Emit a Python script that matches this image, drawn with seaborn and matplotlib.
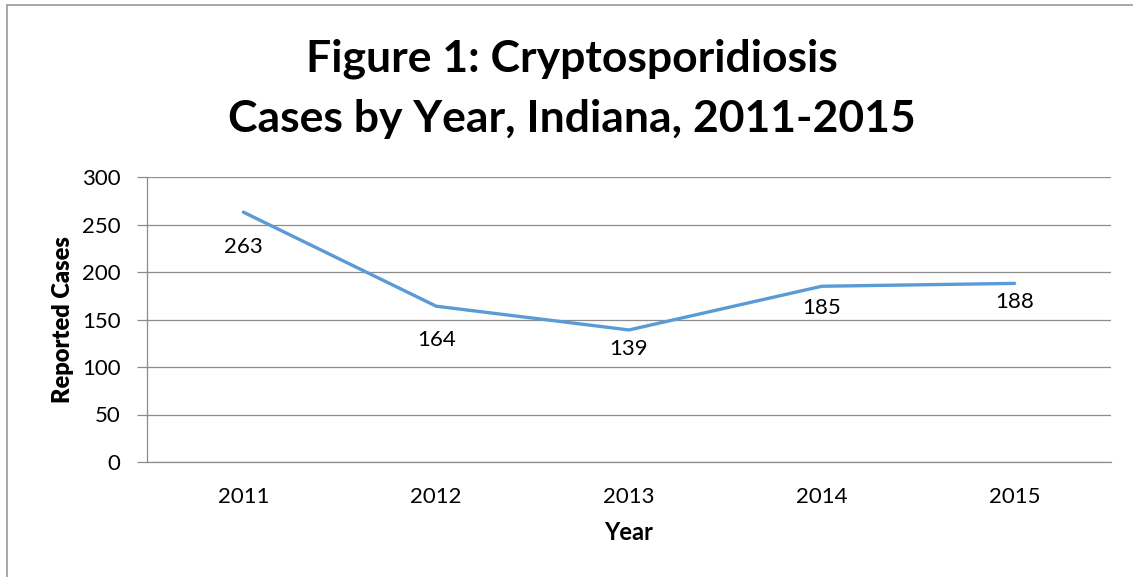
import pandas as pd
import matplotlib
matplotlib.use('Agg')
import matplotlib.pyplot as plt
import matplotlib.patches as mpatches
import seaborn as sns

# Dữ liệu
years = ['2011', '2012', '2013', '2014', '2015']
cases = [263, 164, 139, 185, 188]
y_ticks = [0, 50, 100, 150, 200, 250, 300]

# độ lệch nhãn dữ liệu (pixel, dưới điểm)
label_offsets = [-35, -34, -19, -22, -19]

sns.set_style('white')
plt.rcParams['font.family'] = ['Lato', 'DejaVu Sans']

W, H = 1133, 577
fig = plt.figure(figsize=(W / 100, H / 100), dpi=100)
ax = fig.add_axes([147 / W, 1 - 462 / H, (1111 - 147) / W, (462 - 177) / H])

df = pd.DataFrame({'Year': years, 'Cases': cases})
sns.lineplot(data=df, x='Year', y='Cases', ax=ax, color='#5B9BD5', linewidth=2.4,
             sort=False)

for i, (yr, v) in enumerate(zip(years, cases)):
    ax.annotate(str(v), (i, v), xytext=(0, label_offsets[i] * 0.72),
                textcoords='offset points', ha='center', va='center', fontsize=16,
                color='black')

ax.set_xlim(-0.5, 4.5)
ax.set_ylim(0, 300)
ax.set_yticks(y_ticks)
ax.yaxis.grid(True, color='#8c8c8c', linewidth=0.9)
ax.xaxis.grid(False)
for s in ['top', 'right']:
    ax.spines[s].set_visible(False)
ax.spines['left'].set_color('#8c8c8c')
ax.spines['bottom'].set_color('#8c8c8c')
ax.spines['left'].set_linewidth(0.9)
ax.spines['bottom'].set_linewidth(0.9)

# vạch chia trục x nằm giữa các năm
ax.set_xticks(range(len(years)))
ax.set_xticklabels(years, fontsize=16, color='black')
ax.set_xticks([i - 0.5 for i in range(len(years) + 1)], minor=True)
ax.tick_params(axis='x', which='major', length=0, pad=18)
ax.tick_params(axis='x', which='minor', length=6, color='#8c8c8c', width=0.9, direction='out')
ax.tick_params(axis='y', length=7, color='#8c8c8c', width=0.9, labelsize=16, pad=12,
               left=True, labelcolor='black')

ax.set_xlabel('Year', fontsize=17, fontweight='bold', labelpad=10, color='black')
ax.set_ylabel('Reported Cases', fontsize=17, fontweight='heavy', labelpad=6, color='black')

fig.text(572 / W, 1 - 89 / H, 'Figure 1: Cryptosporidiosis\nCases by Year, Indiana, 2011-2015',
         ha='center', va='center', fontsize=32, fontweight='bold', linespacing=1.6,
         color='black')

# khung viền
fig.patches.append(mpatches.Rectangle((7 / W, -0.1), 1.2, 1 - 5 / H + 0.1, fill=False,
                                      edgecolor='#999999', linewidth=1.2,
                                      transform=fig.transFigure, figure=fig))

fig.savefig('out.png', dpi=100)
